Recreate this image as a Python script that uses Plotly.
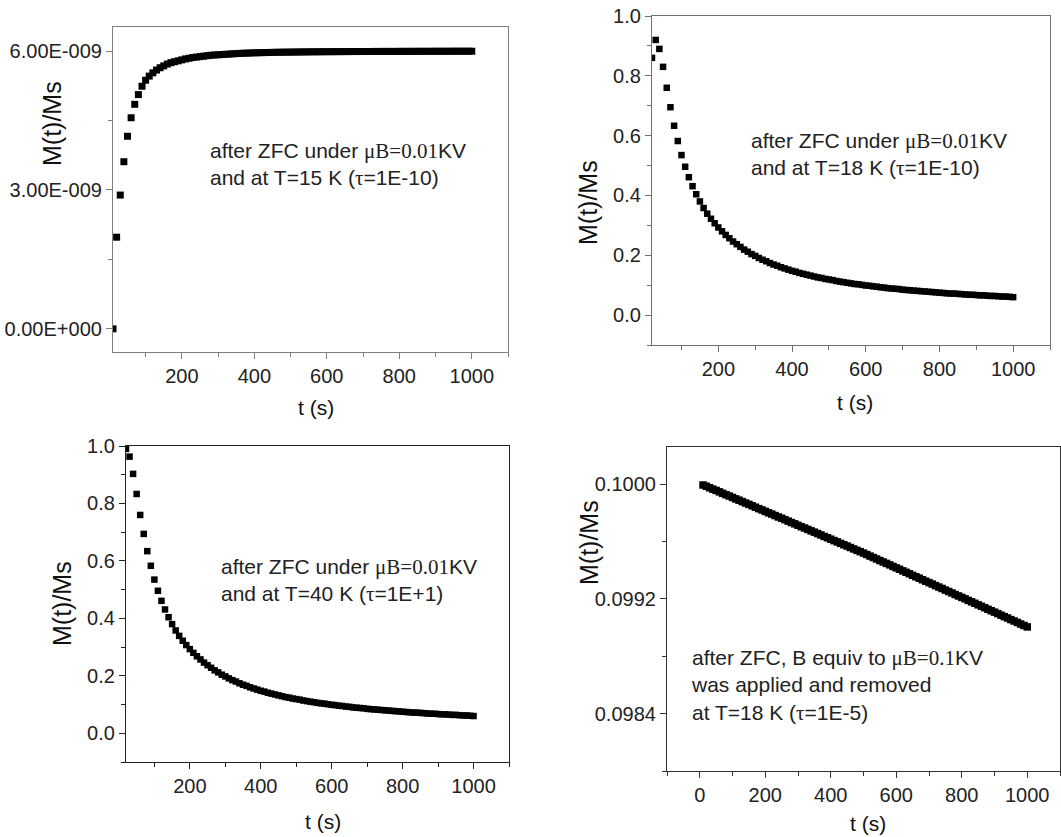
import plotly.graph_objects as go

W, H = 1061, 837

# ---------------- data ----------------
t_a = list(range(10, 1001, 10))          # panel 1 & 4 time grid (s)
t_b = list(range(20, 1001, 10))          # panel 2 & 3 time grid (s)

m15 = [0.00, 1.98, 2.89, 3.61, 4.16, 4.56, 4.85, 5.06, 5.24, 5.37,
       5.46, 5.53, 5.59, 5.64, 5.68, 5.72, 5.75, 5.77, 5.79, 5.81,
       5.83, 5.845, 5.86, 5.87, 5.88, 5.89, 5.90, 5.91, 5.915, 5.92,
       5.925, 5.93, 5.935, 5.94, 5.945, 5.95, 5.953, 5.956, 5.959, 5.962,
       5.964, 5.966, 5.968, 5.970, 5.972, 5.974, 5.975, 5.976, 5.977, 5.978,
       5.979, 5.980, 5.981, 5.982, 5.983, 5.984, 5.984, 5.985, 5.986, 5.986,
       5.987, 5.987, 5.988, 5.988, 5.989, 5.989, 5.990, 5.990, 5.990, 5.991,
       5.991, 5.991, 5.992, 5.992, 5.992, 5.993, 5.993, 5.993, 5.993, 5.994,
       5.994, 5.994, 5.994, 5.995, 5.995, 5.995, 5.995, 5.995, 5.996, 5.996,
       5.996, 5.996, 5.996, 5.996, 5.997, 5.997, 5.997, 5.997, 5.997, 5.997]
m15_scale = 1e-9

m18 = [0.86, 0.92, 0.89, 0.83, 0.76, 0.695, 0.633, 0.582, 0.535,
       0.496, 0.461, 0.431, 0.404, 0.380, 0.358, 0.339, 0.322, 0.307, 0.293,
       0.280, 0.268, 0.257, 0.246, 0.237, 0.228, 0.219, 0.212, 0.204, 0.198,
       0.191, 0.185, 0.180, 0.174, 0.169, 0.165, 0.160, 0.156, 0.152, 0.148,
       0.145, 0.141, 0.138, 0.135, 0.132, 0.129, 0.126, 0.124, 0.121, 0.119,
       0.117, 0.114, 0.112, 0.110, 0.108, 0.106, 0.104, 0.103, 0.101, 0.099,
       0.098, 0.096, 0.095, 0.093, 0.092, 0.090, 0.089, 0.088, 0.087, 0.085,
       0.084, 0.083, 0.082, 0.081, 0.080, 0.079, 0.078, 0.077, 0.076, 0.075,
       0.074, 0.073, 0.072, 0.072, 0.071, 0.070, 0.069, 0.068, 0.068, 0.067,
       0.066, 0.066, 0.065, 0.064, 0.064, 0.063, 0.062, 0.062, 0.061, 0.060]

m40 = [0.99, 0.963, 0.903, 0.833, 0.760, 0.694, 0.634, 0.583, 0.535,
       0.496, 0.461, 0.431, 0.404, 0.380, 0.358, 0.339, 0.322, 0.307, 0.293,
       0.280, 0.268, 0.257, 0.246, 0.237, 0.228, 0.219, 0.212, 0.204, 0.198,
       0.191, 0.185, 0.180, 0.174, 0.169, 0.165, 0.160, 0.156, 0.152, 0.148,
       0.145, 0.141, 0.138, 0.135, 0.132, 0.129, 0.126, 0.124, 0.121, 0.119,
       0.117, 0.114, 0.112, 0.110, 0.108, 0.106, 0.104, 0.103, 0.101, 0.099,
       0.098, 0.096, 0.095, 0.093, 0.092, 0.090, 0.089, 0.088, 0.087, 0.085,
       0.084, 0.083, 0.082, 0.081, 0.080, 0.079, 0.078, 0.077, 0.076, 0.075,
       0.074, 0.073, 0.072, 0.072, 0.071, 0.070, 0.069, 0.068, 0.068, 0.067,
       0.066, 0.066, 0.065, 0.064, 0.064, 0.063, 0.062, 0.062, 0.061, 0.060]

m18b = [0.099995, 0.099986, 0.099976, 0.099966, 0.099957, 0.099947, 0.099937, 0.099927, 0.099918, 0.099908,
        0.099898, 0.099889, 0.099879, 0.099869, 0.099860, 0.099850, 0.099840, 0.099830, 0.099821, 0.099811,
        0.099801, 0.099792, 0.099782, 0.099772, 0.099763, 0.099753, 0.099743, 0.099733, 0.099724, 0.099714,
        0.099704, 0.099695, 0.099685, 0.099675, 0.099666, 0.099656, 0.099646, 0.099636, 0.099627, 0.099617,
        0.099607, 0.099598, 0.099588, 0.099578, 0.099569, 0.099559, 0.099549, 0.099539, 0.099530, 0.099520,
        0.099510, 0.099499, 0.099489, 0.099479, 0.099468, 0.099458, 0.099448, 0.099438, 0.099427, 0.099417,
        0.099407, 0.099396, 0.099386, 0.099376, 0.099365, 0.099355, 0.099345, 0.099334, 0.099324, 0.099314,
        0.099304, 0.099293, 0.099283, 0.099273, 0.099262, 0.099252, 0.099242, 0.099231, 0.099221, 0.099211,
        0.099201, 0.099190, 0.099180, 0.099170, 0.099159, 0.099149, 0.099139, 0.099128, 0.099118, 0.099108,
        0.099098, 0.099087, 0.099077, 0.099067, 0.099056, 0.099046, 0.099036, 0.099025, 0.099015, 0.099005]

p1_tickvals = [0.0, 3e-9, 6e-9]
p1_ticktext = ["0.00E+000", "3.00E-009", "6.00E-009"]
p4_tickvals = [0.0984, 0.0992, 0.1000]
p4_ticktext = ["0.0984", "0.0992", "0.1000"]

SERIF = "font-family:'Liberation Serif','Times New Roman',serif"
notes = [
    "after ZFC under <span style=\"%s\">μB=0.01</span>KV<br>and at T=15 K (<span style=\"%s\">τ</span>=1E-10)" % (SERIF, SERIF),
    "after ZFC under <span style=\"%s\">μB=0.01</span>KV<br>and at T=18 K (<span style=\"%s\">τ</span>=1E-10)" % (SERIF, SERIF),
    "after ZFC under <span style=\"%s\">μB=0.01</span>KV<br>and at T=40 K (<span style=\"%s\">τ</span>=1E+1)" % (SERIF, SERIF),
    "after ZFC, B equiv to <span style=\"%s\">μB=0.1</span>KV<br>was applied and removed<br>at T=18 K (<span style=\"%s\">τ</span>=1E-5)" % (SERIF, SERIF),
]
ytitle = "M(t)/Ms"
xtitle = "t (s)"

# ---------------- layout helpers ----------------
def px_x(x):
    return x / W

def px_y(y):
    return 1 - y / H

FONT = "Arial, 'Liberation Sans', sans-serif"
TICKFONT = dict(family=FONT, size=20, color="#222")

# panel boxes in pixels: left, right, top, bottom
boxes = [
    (113, 508, 27, 352),
    (652, 1050, 16, 345),
    (126, 509, 446, 762),
    (667, 1060, 447, 771),
]
line_cols = ["#808080", "#707070", "#222222", "#333333"]

fig = go.Figure()
series = [(t_a, [v * m15_scale for v in m15]), (t_b, m18), (t_b, m40), (t_a, m18b)]
msizes = [7, 6.5, 6.5, 7.5]
for i, (tx, vy) in enumerate(series):
    sfx = "" if i == 0 else str(i + 1)
    fig.add_trace(go.Scatter(
        x=tx, y=vy, mode="markers",
        marker=dict(symbol="square", size=msizes[i], color="black", line=dict(width=0)),
        xaxis="x" + sfx, yaxis="y" + sfx, showlegend=False,
        hoverinfo="x+y"))

xranges = [[10, 1100], [20, 1100], [20, 1100], [-100, 1100]]
yranges = [[-0.5e-9, 6.52e-9], [-0.1, 1.0], [-0.1, 1.0], [0.0980, 0.10026]]

layout = dict(
    template="none",
    width=W, height=H, autosize=False,
    margin=dict(l=0, r=0, t=0, b=0, pad=0, autoexpand=False),
    paper_bgcolor="white", plot_bgcolor="white", showlegend=False,
    font=dict(family=FONT, color="#222"),
)

for i in range(4):
    sfx = "" if i == 0 else str(i + 1)
    l, r, t, b = boxes[i]
    xa = dict(
        domain=[px_x(l), px_x(r)], range=xranges[i], anchor="y" + sfx,
        automargin=False,
        showline=True, linecolor=line_cols[i], linewidth=1.2, mirror=True,
        showgrid=False, zeroline=False,
        ticks="outside", ticklen=6, tickwidth=1, tickcolor=line_cols[i],
        tickmode="linear", tick0=0, dtick=200, tickfont=TICKFONT,
        minor=dict(ticks="outside", ticklen=4, tickwidth=1, tickcolor=line_cols[i],
                   tickmode="linear", tick0=0, dtick=100, showgrid=False),
    )
    ya = dict(
        domain=[px_y(b), px_y(t)], range=yranges[i], anchor="x" + sfx,
        automargin=False,
        showline=True, linecolor=line_cols[i], linewidth=1.2, mirror=True,
        showgrid=False, zeroline=False,
        ticks="outside", ticklen=6, tickwidth=1, tickcolor=line_cols[i],
        tickfont=TICKFONT,
    )
    if i == 0:
        ya.update(tickmode="array", tickvals=p1_tickvals, ticktext=p1_ticktext,
                  minor=dict(ticks="outside", ticklen=4, tickcolor=line_cols[i],
                             tickmode="linear", tick0=0, dtick=1.5e-9, showgrid=False))
    elif i in (1, 2):
        ya.update(tickmode="linear", tick0=0, dtick=0.2, tickformat=".1f",
                  minor=dict(ticks="outside", ticklen=4, tickcolor=line_cols[i],
                             tickmode="linear", tick0=0, dtick=0.1, showgrid=False))
    else:
        ya.update(tickmode="array", tickvals=p4_tickvals, ticktext=p4_ticktext,
                  minor=dict(ticks="outside", ticklen=4, tickcolor=line_cols[i],
                             tickmode="linear", tick0=0.0980, dtick=0.0004, showgrid=False))
    layout["xaxis" + sfx] = xa
    layout["yaxis" + sfx] = ya

# annotation positions (pixels)
ytitle_pos = [(52, 124), (588, 203), (62, 604), (589, 543)]
xtitle_pos = [(316, 408), (855, 402), (323, 821), (868, 823)]
note_pos = [(208, 164), (749, 154), (219, 580), (689, 685)]

anns = []
for i in range(4):
    anns.append(dict(text=ytitle, x=px_x(ytitle_pos[i][0]), y=px_y(ytitle_pos[i][1]),
                     xref="paper", yref="paper", showarrow=False, textangle=-90,
                     xanchor="center", yanchor="middle",
                     font=dict(family=FONT, size=25, color="#111")))
    anns.append(dict(text=xtitle, x=px_x(xtitle_pos[i][0]), y=px_y(xtitle_pos[i][1]),
                     xref="paper", yref="paper", showarrow=False,
                     xanchor="center", yanchor="middle",
                     font=dict(family=FONT, size=21, color="#111")))
    anns.append(dict(text=notes[i], x=px_x(note_pos[i][0]), y=px_y(note_pos[i][1]),
                     xref="paper", yref="paper", showarrow=False, align="left",
                     xanchor="left", yanchor="middle",
                     font=dict(family=FONT, size=21, color="#222")))
layout["annotations"] = anns

fig.update_layout(**layout)

post = ("document.documentElement.style.margin='0';"
        "document.body.style.margin='0';document.body.style.padding='0';"
        "document.body.style.overflow='hidden';"
        "var d=document.getElementById('{plot_id}');"
        "d.style.position='absolute';d.style.top='0px';d.style.left='0px';")
fig.write_html("out.html", post_script=post, config={"displayModeBar": False})
